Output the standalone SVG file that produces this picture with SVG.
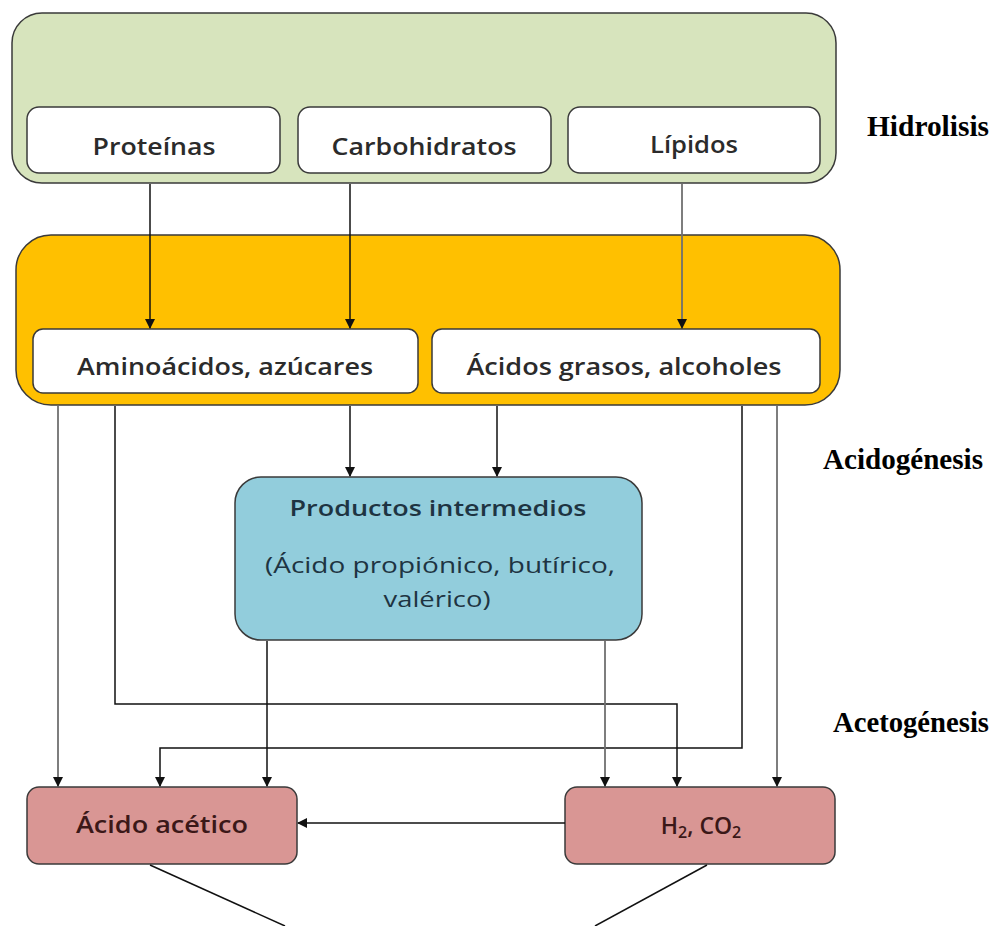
<svg xmlns="http://www.w3.org/2000/svg" width="995" height="926" viewBox="0 0 995 926">
<defs>
<marker id="ah" markerWidth="10" markerHeight="10" refX="9" refY="5" orient="auto" markerUnits="userSpaceOnUse">
<path d="M0,0 L10,5 L0,10 z" fill="#111"/>
</marker>
<style>
.box{stroke:#3a3a3a;stroke-width:1.5}
.t{font-family:"Open Sans","Liberation Sans",sans-serif;font-weight:600;font-size:23px;fill:#2b2b2b;text-anchor:middle}
.p{font-family:"Open Sans","Liberation Sans",sans-serif;font-size:21px;fill:#1e3442;text-anchor:middle}
.lab{font-family:"Liberation Serif",serif;font-weight:bold;font-size:29px;fill:#000}
.c{fill:none;stroke:#111;stroke-width:1.5}
.g{fill:none;stroke:#707070;stroke-width:1.8}
</style>
</defs>
<rect width="995" height="926" fill="#fff"/>
<g id="hidrolisis-group">
<rect class="box" x="12" y="13" width="824" height="170" rx="30" fill="#d7e4bd"/>
</g>
<g id="proteinas"><rect class="box" x="27" y="107" width="253" height="66" rx="12" fill="#fff"/><text class="t" x="154" y="155" textLength="123" lengthAdjust="spacingAndGlyphs">Proteínas</text></g>
<g id="carbohidratos"><rect class="box" x="298" y="107" width="253" height="66" rx="12" fill="#fff"/><text class="t" x="424" y="155" textLength="185" lengthAdjust="spacingAndGlyphs">Carbohidratos</text></g>
<g id="lipidos"><rect class="box" x="568" y="107" width="252" height="66" rx="12" fill="#fff"/><text class="t" x="694" y="153" textLength="88" lengthAdjust="spacingAndGlyphs">Lípidos</text></g>
<g id="acidogenesis-group">
<rect class="box" x="16" y="235" width="824" height="170" rx="35" fill="#ffc000"/>
</g>
<g id="aminoacidos"><rect class="box" x="33" y="329" width="385" height="64" rx="10" fill="#fff"/><text class="t" x="225" y="375" textLength="296" lengthAdjust="spacingAndGlyphs">Aminoácidos, azúcares</text></g>
<g id="acidos-grasos"><rect class="box" x="432" y="329" width="388" height="64" rx="10" fill="#fff"/><text class="t" x="624" y="375" textLength="315" lengthAdjust="spacingAndGlyphs">Ácidos grasos, alcoholes</text></g>
<g id="productos"><rect class="box" x="235" y="477" width="407" height="163" rx="26" fill="#92cddc"/>
<text class="p" x="438" y="516" font-weight="600" textLength="297" lengthAdjust="spacingAndGlyphs">Productos intermedios</text>
<text class="p" x="440" y="573" textLength="350" lengthAdjust="spacingAndGlyphs">(Ácido propiónico, butírico,</text>
<text class="p" x="437" y="607" textLength="107" lengthAdjust="spacingAndGlyphs">valérico)</text></g>
<g id="acido-acetico"><rect class="box" x="27" y="787" width="270" height="77" rx="12" fill="#d99694"/><text class="t" x="162" y="833" style="fill:#3b1818" textLength="172" lengthAdjust="spacingAndGlyphs">Ácido acético</text></g>
<g id="h2co2"><rect class="box" x="565" y="787" width="270" height="77" rx="12" fill="#d99694"/><text x="701" y="834" style="font-family:'Open Sans','Liberation Sans',sans-serif;font-weight:600;font-size:23px;fill:#3b1818;text-anchor:middle">H<tspan font-size="16" dy="4">2</tspan><tspan dy="-4">, CO</tspan><tspan font-size="16" dy="4">2</tspan></text></g>
<g id="connectors">
<line class="c" x1="150" y1="184" x2="150" y2="328" marker-end="url(#ah)"/>
<line class="c" x1="350" y1="184" x2="350" y2="328" marker-end="url(#ah)"/>
<line class="g" x1="682" y1="184" x2="682" y2="328" marker-end="url(#ah)"/>
<line class="c" x1="350" y1="406" x2="350" y2="476" marker-end="url(#ah)"/>
<line class="c" x1="497" y1="406" x2="497" y2="476" marker-end="url(#ah)"/>
<line class="g" x1="58" y1="406" x2="58" y2="786" marker-end="url(#ah)"/>
<polyline class="c" points="115,406 115,704 677,704 677,786" marker-end="url(#ah)"/>
<polyline class="c" points="742,406 742,748 160,748 160,786" marker-end="url(#ah)"/>
<line class="c" x1="267" y1="641" x2="267" y2="786" marker-end="url(#ah)"/>
<line class="g" x1="605" y1="641" x2="605" y2="786" marker-end="url(#ah)"/>
<line class="g" x1="777" y1="406" x2="777" y2="786" marker-end="url(#ah)"/>
<line class="c" x1="565" y1="823" x2="298" y2="823" marker-end="url(#ah)"/>
<line class="c" x1="150" y1="865" x2="285" y2="926" stroke="#333"/>
<line class="c" x1="707" y1="865" x2="595" y2="926" stroke="#333"/>
</g>
<g id="labels">
<text class="lab" x="867" y="136" textLength="122" lengthAdjust="spacingAndGlyphs">Hidrolisis</text>
<text class="lab" x="823" y="469" textLength="160" lengthAdjust="spacingAndGlyphs">Acidogénesis</text>
<text class="lab" x="833" y="732" textLength="156" lengthAdjust="spacingAndGlyphs">Acetogénesis</text>
</g>
</svg>
